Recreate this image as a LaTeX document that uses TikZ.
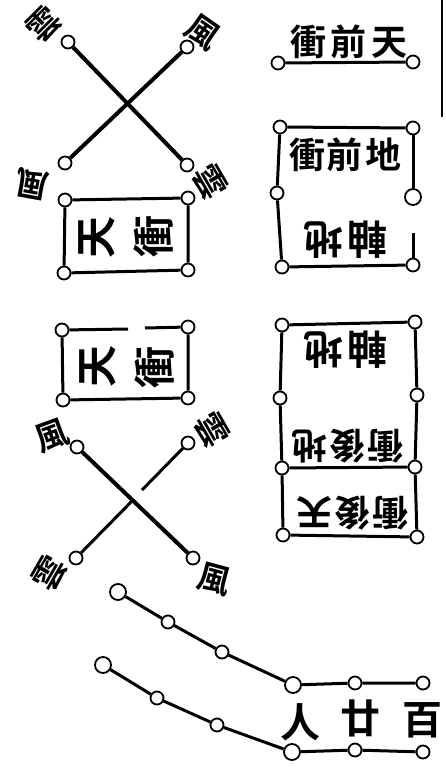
\documentclass[tikz,border=0pt]{standalone}
\usepackage{fontspec}
\newfontfamily\cjk{Noto Sans CJK TC}[BoldFont={Noto Sans CJK TC Bold}]
\begin{document}
\begin{tikzpicture}[x=1pt,y=-1pt,
  dot/.style={circle,draw,line width=1.8pt,fill=white,minimum size=13pt,inner sep=0pt},
  bigdot/.style={dot,minimum size=16pt},
  ln/.style={line width=3pt},
  heavy/.style={line width=4pt},
  lab/.style={font=\cjk\bfseries\fontsize{33}{33}\selectfont,inner sep=0pt},
  big/.style={font=\cjk\bfseries\fontsize{42}{42}\selectfont,inner sep=0pt},
  mid/.style={font=\cjk\bfseries\fontsize{36}{36}\selectfont,inner sep=0pt},
  axis/.style={font=\cjk\bfseries\fontsize{40}{40}\selectfont,inner sep=0pt}]
\path[use as bounding box] (0,0) rectangle (445,768);

% right edge rule
\coordinate (e1) at (442,0);
\coordinate (e2) at (442,117);
\draw[line width=2.4pt] (e1) -- (e2);

% ---------- upper cross ----------
\node[dot] (c1) at (68,42) {};
\node[dot] (c2) at (187,47) {};
\node[dot] (c3) at (65,163) {};
\node[dot] (c4) at (187,165) {};
\draw[heavy] (c1) -- (c4);
\draw[heavy] (c2) -- (c3);
\node[lab,rotate=45] (t1) at (44,24) {雲};
\node[lab,rotate=-35] (t2) at (203,32) {風};
\node[lab,rotate=170] (t3) at (32,184) {風};
\node[lab,rotate=-60] (t4) at (210,182) {雲};

% ---------- upper-left box ----------
\node[dot] (b1) at (65,200) {};
\node[dot] (b2) at (188,198) {};
\node[dot] (b3) at (64,273) {};
\node[dot] (b4) at (188,270) {};
\draw[ln] (b1) -- (b2) -- (b4) -- (b3) -- (b1);
\node[big,rotate=90] (s1) at (97,237) {天};
\node[big,rotate=90] (s2) at (154,236) {衝};

% ---------- lower-left box ----------
\node[dot] (d1) at (62,330) {};
\node[dot] (d2) at (188,327) {};
\node[dot] (d3) at (63,400) {};
\node[dot] (d4) at (188,398) {};
\coordinate (g1) at (128,329);
\coordinate (g2) at (145,328);
\draw[ln] (g1) -- (d1) -- (d3) -- (d4) -- (d2) -- (g2);
\node[big,rotate=90] (s3) at (98,366) {天};
\node[big,rotate=90] (s4) at (155,367) {衝};

% ---------- lower cross ----------
\node[dot] (x1) at (77,447) {};
\node[dot] (x2) at (188,443) {};
\node[dot] (x3) at (76,558) {};
\node[dot] (x4) at (193,558) {};
\coordinate (x5) at (142,490);
\coordinate (x6) at (134,499);
\draw[heavy] (x1) -- (x4);
\draw[ln] (x2) -- (x5);
\draw[ln] (x6) -- (x3);
\node[lab,rotate=20] (w1) at (52,436) {風};
\node[lab,rotate=-60] (w2) at (212,430) {雲};
\node[lab,rotate=60] (w3) at (49,573) {雲};
\node[lab,rotate=-15] (w4) at (214,579) {風};

% ---------- upper-right bar ----------
\node[dot] (r1) at (278,63) {};
\node[dot] (r2) at (413,62) {};
\draw[ln] (r1) -- (r2);
\node[mid] (rt) at (349,42) {衝\hspace{5pt}前\hspace{5pt}天};

% ---------- right box 2 ----------
\node[dot] (p1) at (280,127) {};
\node[dot] (p2) at (413,128) {};
\node[dot] (pl) at (277,193) {};
\node[bigdot] (pr) at (413,197) {};
\node[dot] (p3) at (282,267) {};
\node[dot] (p4) at (413,265) {};
\coordinate (pg) at (413,233);
\draw[ln] (p1) -- (p2);
\draw[ln] (p3) -- (p4);
\draw[ln] (p1) -- (pl) -- (p3);
\draw[ln] (p2) -- (pr);
\draw[ln] (pg) -- (p4);
\node[mid] (pt) at (345,155) {衝\hspace{2pt}前\hspace{2pt}地};
\node[axis,rotate=180] (pb) at (345,240) {軸\hspace{4pt}地};

% ---------- right box 3 ----------
\node[dot] (q1) at (282,325) {};
\node[dot] (q2) at (415,322) {};
\node[dot] (ql) at (280,398) {};
\node[dot] (qr) at (417,395) {};
\node[dot] (m1) at (282,468) {};
\node[dot] (m2) at (415,467) {};
\node[dot] (q3) at (283,535) {};
\node[dot] (q4) at (417,537) {};
\draw[ln] (q1) -- (q2);
\draw[ln] (q1) -- (ql) -- (m1) -- (q3) -- (q4) -- (m2) -- (qr) -- (q2);
\draw[ln] (m1) -- (m2);
\node[axis,rotate=180] (qa) at (345,350) {軸\hspace{4pt}地};
\node[mid,rotate=180] (qb) at (347,446) {衝\hspace{2pt}後\hspace{2pt}地};
\node[mid,rotate=180] (qc) at (352,513) {衝\hspace{2pt}後\hspace{2pt}天};

% ---------- chains ----------
\node[bigdot] (u1) at (118,592) {};
\node[dot] (u2) at (168,622) {};
\node[dot] (u3) at (222,652) {};
\node[bigdot] (u4) at (293,685) {};
\node[dot] (u5) at (355,683) {};
\node[dot] (u6) at (423,683) {};
\draw[ln] (u1) -- (u2) -- (u3) -- (u4) -- (u5) -- (u6);
\node[bigdot] (l1) at (103,665) {};
\node[dot] (l2) at (157,698) {};
\node[dot] (l3) at (217,725) {};
\node[bigdot] (l4) at (292,752) {};
\node[dot] (l5) at (355,750) {};
\node[dot] (l6) at (423,752) {};
\draw[ln] (l1) -- (l2) -- (l3) -- (l4) -- (l5) -- (l6);
\node[axis] (n1) at (300,722) {人};
\node[axis] (n2) at (360,718) {廿};
\node[axis] (n3) at (422,720) {百};
\end{tikzpicture}
\end{document}
